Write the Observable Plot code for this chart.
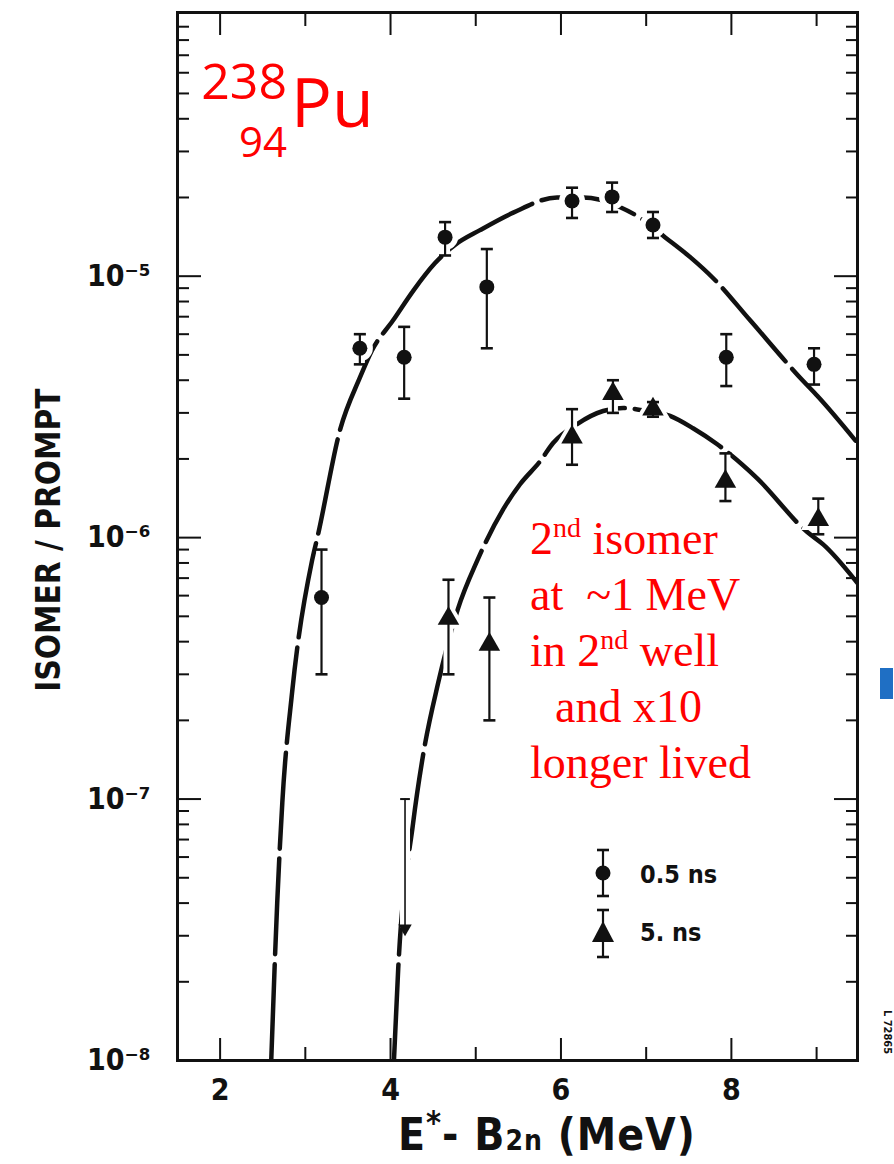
<!DOCTYPE html>
<html><head><meta charset="utf-8">
<script src="https://cdn.jsdelivr.net/npm/d3@7"></script>
<script src="https://cdn.jsdelivr.net/npm/@observablehq/plot@0.6"></script>
<style>
html,body{margin:0;padding:0;background:#fff;}
#wrap{position:relative;width:894px;height:1164px;overflow:hidden;background:#fff;}
#wrap svg{display:block;}
#over{position:absolute;left:0;top:0;pointer-events:none;}
.ax{font-family:'DejaVu Sans Condensed','DejaVu Sans',sans-serif;font-weight:bold;font-stretch:condensed;fill:#111;}
.red{font-family:'Open Sans','Noto Sans',sans-serif;fill:#ff0000;}
.redserif{font-family:'Liberation Serif','DejaVu Serif',serif;fill:#ff0000;font-size:46px;white-space:pre;}
</style></head><body><div id="wrap"></div>
<script>
// ---- data ----
// 0.5 ns isomer (circles)
const circleX  = [3.19, 3.64, 4.16, 4.64, 5.13, 6.13, 6.60, 7.08, 7.94, 8.97];
const circleY  = [5.9e-7, 5.3e-6, 4.9e-6, 1.41e-5, 9.1e-6, 1.94e-5, 2.01e-5, 1.57e-5, 4.9e-6, 4.6e-6];
const circleHi = [9.0e-7, 6.0e-6, 6.4e-6, 1.61e-5, 1.27e-5, 2.18e-5, 2.28e-5, 1.76e-5, 6.0e-6, 5.3e-6];
const circleLo = [3.0e-7, 4.6e-6, 3.4e-6, 1.2e-5, 5.3e-6, 1.67e-5, 1.76e-5, 1.4e-5, 3.8e-6, 3.85e-6];
// 5 ns isomer (triangles)
const triX  = [4.68, 5.16, 6.13, 6.61, 7.08, 7.93, 9.02];
const triY  = [4.9e-7, 3.9e-7, 2.42e-6, 3.55e-6, 3.1e-6, 1.64e-6, 1.17e-6];
const triHi = [6.9e-7, 5.9e-7, 3.1e-6, 4.0e-6, 3.3e-6, 2.1e-6, 1.41e-6];
const triLo = [3.0e-7, 2.0e-7, 1.9e-6, 3.0e-6, 2.9e-6, 1.38e-6, 1.03e-6];
// upper limit (arrow)
const limitX = [4.17];
const limitTop = [1.0e-7];
const limitTip = [3.2e-8];
// fitted curves
const upperFitX = [2.60, 2.67, 2.73, 2.845, 3.08, 3.15, 3.41, 3.64, 3.78, 4.03, 4.27, 4.52, 4.76, 5.05, 5.44, 5.955, 6.26, 6.46, 6.69, 6.93, 7.22, 7.52, 7.79, 8.22, 8.84, 9.01, 9.48];
const upperFitY = [1.0e-8, 4.0e-8, 9.7e-8, 2.56e-7, 8.2e-7, 1.03e-6, 2.6e-6, 4.09e-6, 5.19e-6, 6.78e-6, 8.83e-6, 1.12e-5, 1.32e-5, 1.50e-5, 1.75e-5, 2.0e-5, 2.0e-5, 1.96e-5, 1.84e-5, 1.67e-5, 1.41e-5, 1.18e-5, 9.8e-6, 6.78e-6, 3.98e-6, 3.48e-6, 2.3e-6];
const lowerFitX = [4.04, 4.09, 4.265, 4.38, 4.56, 4.79, 5.02, 5.32, 5.52, 5.756, 5.908, 6.19, 6.495, 6.73, 6.93, 7.28, 7.55, 7.83, 8.30, 8.89, 9.08, 9.48];
const lowerFitY = [1.0e-8, 2.24e-8, 8.1e-8, 1.46e-7, 2.79e-7, 5.33e-7, 8.2e-7, 1.28e-6, 1.6e-6, 1.96e-6, 2.3e-6, 2.72e-6, 3.05e-6, 3.13e-6, 3.08e-6, 2.92e-6, 2.62e-6, 2.28e-6, 1.69e-6, 1.05e-6, 9.4e-7, 6.7e-7];
// ticks
const xMajorTicks = [2, 4, 6, 8];
const xMinorTicks = [3, 5, 7, 9];
const yDecadeTicks = [1e-8, 1e-7, 1e-6, 1e-5];
const yTickLabels = ["10\u207B\u2078", "10\u207B\u2077", "10\u207B\u2076", "10\u207B\u2075"];
const yMinorMultipliers = [2, 3, 4, 5, 6, 7, 8, 9];
const legendLabels = ["0.5 ns", "5. ns"];

// ---- build tables ----
const rows = (xs, ys, his, los) => xs.map((x, i) => ({x, y: ys[i], hi: his[i], lo: los[i]}));
const circles = rows(circleX, circleY, circleHi, circleLo);
const triangles = rows(triX, triY, triHi, triLo);
const bars = circles.concat(triangles);
const limits = limitX.map((x, i) => ({x, top: limitTop[i], tip: limitTip[i]}));
const upperFit = upperFitX.map((x, i) => ({x, y: upperFitY[i]}));
const lowerFit = lowerFitX.map((x, i) => ({x, y: lowerFitY[i]}));
const yMinorTicks = yDecadeTicks.flatMap(d => yMinorMultipliers.map(m => d * m));

const capSymbol = {draw(ctx, size) { const w = Math.sqrt(size); ctx.moveTo(-w / 2, 0); ctx.lineTo(w / 2, 0); }};
const blank = () => "";

const chart = Plot.plot({
  width: 894, height: 1164,
  marginLeft: 177, marginRight: 37, marginTop: 12, marginBottom: 104,
  x: {domain: [1.5, 9.48]},
  y: {type: "log", domain: [1e-8, 1.02e-4]},
  style: {fontFamily: "'DejaVu Sans Condensed','DejaVu Sans',sans-serif", fontSize: "30px", fontWeight: "bold", fontStretch: "condensed", background: "white", color: "#111"},
  marks: [
    // fitted curves (long-dashed as in the scan)
    Plot.line(upperFit, {x: "x", y: "y", curve: "monotone-x", stroke: "#111", strokeWidth: 4.5, strokeDasharray: "96,10", clip: true}),
    Plot.line(lowerFit, {x: "x", y: "y", curve: "monotone-x", stroke: "#111", strokeWidth: 4.5, strokeDasharray: "96,10", clip: true}),
    // white halos (curve interrupted around the data points)
    Plot.ruleX(bars, {x: "x", y1: "lo", y2: "hi", stroke: "white", strokeWidth: 10}),
    Plot.ruleX(limits, {x: "x", y1: "tip", y2: "top", stroke: "white", strokeWidth: 10}),
    Plot.dot(circles, {x: "x", y: "y", r: 13, fill: "white"}),
    Plot.dot(triangles, {x: "x", y: "y", symbol: "triangle", r: 13, fill: "white"}),
    // error bars
    Plot.ruleX(bars, {x: "x", y1: "lo", y2: "hi", stroke: "#111", strokeWidth: 2.2}),
    Plot.dot(bars, {x: "x", y: "hi", symbol: capSymbol, r: 6.8, stroke: "#111", strokeWidth: 2.6}),
    Plot.dot(bars, {x: "x", y: "lo", symbol: capSymbol, r: 6.8, stroke: "#111", strokeWidth: 2.6}),
    // upper limit
    Plot.ruleX(limits, {x: "x", y1: "tip", y2: "top", stroke: "#111", strokeWidth: 1.6}),
    Plot.dot(limits, {x: "x", y: "top", symbol: capSymbol, r: 5.5, stroke: "#111", strokeWidth: 2}),
    Plot.dot(limits, {x: "x", y: "tip", symbol: "triangle", rotate: 180, r: 5, fill: "#111"}),
    // markers
    Plot.dot(circles, {x: "x", y: "y", r: 7.5, fill: "#111"}),
    Plot.dot(triangles, {x: "x", y: "y", symbol: "triangle", r: 8, fill: "#111"}),
    // axes: labels
    Plot.axisX({anchor: "bottom", ticks: xMajorTicks, tickSize: 0, tickPadding: 18, label: null, tickFormat: d => String(d)}),
    Plot.axisY({anchor: "left", ticks: yDecadeTicks, tickSize: 0, tickPadding: 27, label: null, tickFormat: d => yTickLabels[yDecadeTicks.indexOf(d)]}),
    // axes: inward ticks on all four sides
    Plot.axisX({anchor: "bottom", ticks: xMajorTicks, tickSize: -22, tickFormat: blank, label: null, strokeWidth: 2}),
    Plot.axisX({anchor: "bottom", ticks: xMinorTicks, tickSize: -13, tickFormat: blank, label: null, strokeWidth: 2}),
    Plot.axisX({anchor: "top", ticks: xMajorTicks, tickSize: -22, tickFormat: blank, label: null, strokeWidth: 2}),
    Plot.axisX({anchor: "top", ticks: xMinorTicks, tickSize: -13, tickFormat: blank, label: null, strokeWidth: 2}),
    Plot.axisY({anchor: "left", ticks: yDecadeTicks, tickSize: -24, tickFormat: blank, label: null, strokeWidth: 2}),
    Plot.axisY({anchor: "left", ticks: yMinorTicks, tickSize: -12, tickFormat: blank, label: null, strokeWidth: 2}),
    Plot.axisY({anchor: "right", ticks: yDecadeTicks, tickSize: -24, tickFormat: blank, label: null, strokeWidth: 2}),
    Plot.axisY({anchor: "right", ticks: yMinorTicks, tickSize: -12, tickFormat: blank, label: null, strokeWidth: 2}),
    Plot.frame({stroke: "#111", strokeWidth: 3})
  ]
});

const wrap = document.getElementById("wrap");
wrap.appendChild(chart);

// ---- annotations, titles and legend (overlay) ----
const NS = "http://www.w3.org/2000/svg";
const over = document.createElementNS(NS, "svg");
over.setAttribute("id", "over");
over.setAttribute("width", 894);
over.setAttribute("height", 1164);
over.innerHTML = `
  <text class="ax" font-size="33" transform="translate(60,540) rotate(-90)" text-anchor="middle">ISOMER / PROMPT</text>
  <text class="ax" font-size="44" x="398" y="1150" letter-spacing="1">E<tspan font-size="32" dy="-17">*</tspan><tspan dy="17">- B</tspan><tspan font-size="28">2n</tspan> (MeV)</text>
  <text class="red" font-size="50" x="287" y="99" text-anchor="end">238</text>
  <text class="red" font-size="42" x="287" y="157" text-anchor="end">94</text>
  <text class="red" font-size="68" x="291" y="127">Pu</text>
  <text class="redserif" x="530" y="554">2<tspan font-size="28" dy="-17">nd</tspan><tspan dy="17"> isomer</tspan></text>
  <text class="redserif" x="530" y="610">at  ~1 MeV</text>
  <text class="redserif" x="530" y="666">in 2<tspan font-size="28" dy="-17">nd</tspan><tspan dy="17"> well</tspan></text>
  <text class="redserif" x="555" y="722">and x10</text>
  <text class="redserif" x="530" y="778">longer lived</text>
  <g stroke="#111" stroke-width="2.2">
    <line x1="603" x2="603" y1="850" y2="896"/>
    <line x1="597" x2="609" y1="850" y2="850" stroke-width="2.6"/>
    <line x1="597" x2="609" y1="896" y2="896" stroke-width="2.6"/>
    <line x1="603" x2="603" y1="910" y2="957"/>
    <line x1="597" x2="609" y1="910" y2="910" stroke-width="2.6"/>
    <line x1="597" x2="609" y1="957" y2="957" stroke-width="2.6"/>
  </g>
  <circle cx="603" cy="873" r="7.5" fill="#111"/>
  <path d="M603,921 L614,942 L592,942 Z" fill="#111"/>
  <text class="ax" font-size="25" x="640" y="883">${legendLabels[0]}</text>
  <text class="ax" font-size="25" x="640" y="941">${legendLabels[1]}</text>
  <text class="ax" font-size="11" transform="translate(884,1032) rotate(90)" text-anchor="middle">L 72865</text>
  <rect x="880" y="668" width="13" height="31" fill="#1f6fc4"/>
`;
wrap.appendChild(over);
</script></body></html>
